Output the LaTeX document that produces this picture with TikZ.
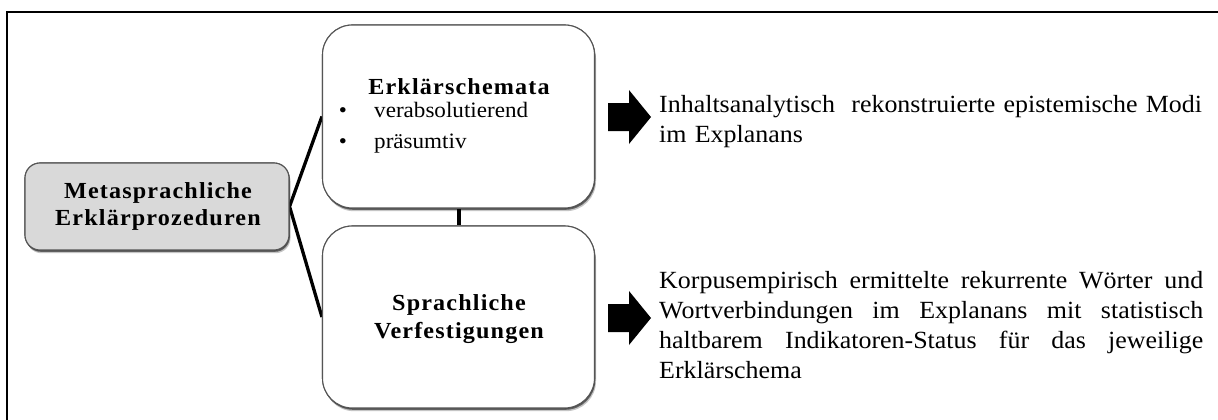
\documentclass[tikz,border=0pt]{standalone}
\usepackage{fontspec}
\setmainfont{Liberation Serif}[FakeStretch=1.05]
\newfontfamily\headfont{Liberation Serif}[FakeStretch=1.05,LetterSpace=5]
\usetikzlibrary{shadows}
\definecolor{metafill}{RGB}{217,217,217}
\definecolor{boxline}{RGB}{85,85,85}
\begin{document}
\begin{tikzpicture}[x=1pt,y=-1pt,
  softshadow/.style={
    general shadow={fill=black, opacity=0.12, shadow xshift=1.5pt, shadow yshift=-3.2pt},
    general shadow={fill=black, opacity=0.30, shadow xshift=0.8pt, shadow yshift=-1.8pt}},
  panel/.style={draw=boxline, line width=1.1pt, fill=white, softshadow,
    inner sep=0pt, minimum width=272pt, rounded corners=30pt},
  rootbox/.style={draw=boxline, line width=1.1pt, fill=metafill, softshadow,
    rounded corners=15pt, inner sep=0pt, minimum width=264pt, minimum height=87pt},
  title/.style={font=\headfont\bfseries\fontsize{23}{27.5}\selectfont, align=center, inner sep=0pt},
  item/.style={font=\fontsize{22}{31}\selectfont, inner sep=0pt},
  note/.style={font=\fontsize{24.7}{30}\selectfont, inner sep=0pt},
  link/.style={line width=3.3pt, black},
  blockarrow/.style={fill=black}]

\useasboundingbox (0,0) rectangle (1218,420);

% frame: left and top rule
\draw[line width=2pt, black] (7,420) -- (7,12.5) -- (1218,12.5);

% boxes (placed first so connectors can refer to them)
\node[rootbox] (meta) at (157,206.5) {};
\node[panel, minimum height=183pt] (erk) at (458.5,116.5) {};
\node[panel, minimum height=182pt] (spr) at (458.5,317) {};

% connectors
\draw[link] (erk.west) -- (meta.east) -- (spr.west);
\draw[link, line width=4pt] (erk.south) -- (spr.north);

% redraw boxes over the connector ends
\node[rootbox] at (meta) {};
\node[panel, minimum height=183pt] at (erk) {};
\node[panel, minimum height=182pt] at (spr) {};

% box texts
\node[title] (metaT) at (158,206.5) {Metasprachliche\\Erklärprozeduren};
\node[title, anchor=base] (erkT) at (459,94) {Erklärschemata};
\node[item, anchor=base] (b1) at (343,117) {\textbullet};
\node[item, anchor=base west] (i1) at (374,117) {verabsolutierend};
\node[item, anchor=base] (b2) at (343,148) {\textbullet};
\node[item, anchor=base west] (i2) at (374,148) {präsumtiv};
\node[title] (sprT) at (459,319) {Sprachliche\\Verfestigungen};

% block arrows
\fill[blockarrow] (608,103) -- (629,103) -- (629,90) -- (651,117)
  -- (629,144) -- (629,131) -- (608,131) -- cycle;
\fill[blockarrow] (608,304) -- (629,304) -- (629,291) -- (651,318)
  -- (629,345) -- (629,332) -- (608,332) -- cycle;

% explanatory texts
\node[note, anchor=base west, text width=560pt, align=left] (t1) at (659,112)
  {Inhaltsanalytisch\ \ rekonstruierte epistemische Modi\\im Explanans};
\node[note, anchor=base west, text width=544pt, align=justify] (t2) at (659,288)
  {\tolerance=10000\hyphenpenalty=10000
   Korpusempirisch ermittelte rekurrente Wörter und\linebreak
   Wortverbindungen im Explanans mit statistisch\linebreak
   haltbarem Indikatoren-Status für das jeweilige\linebreak
   Erklärschema};
\end{tikzpicture}
\end{document}
